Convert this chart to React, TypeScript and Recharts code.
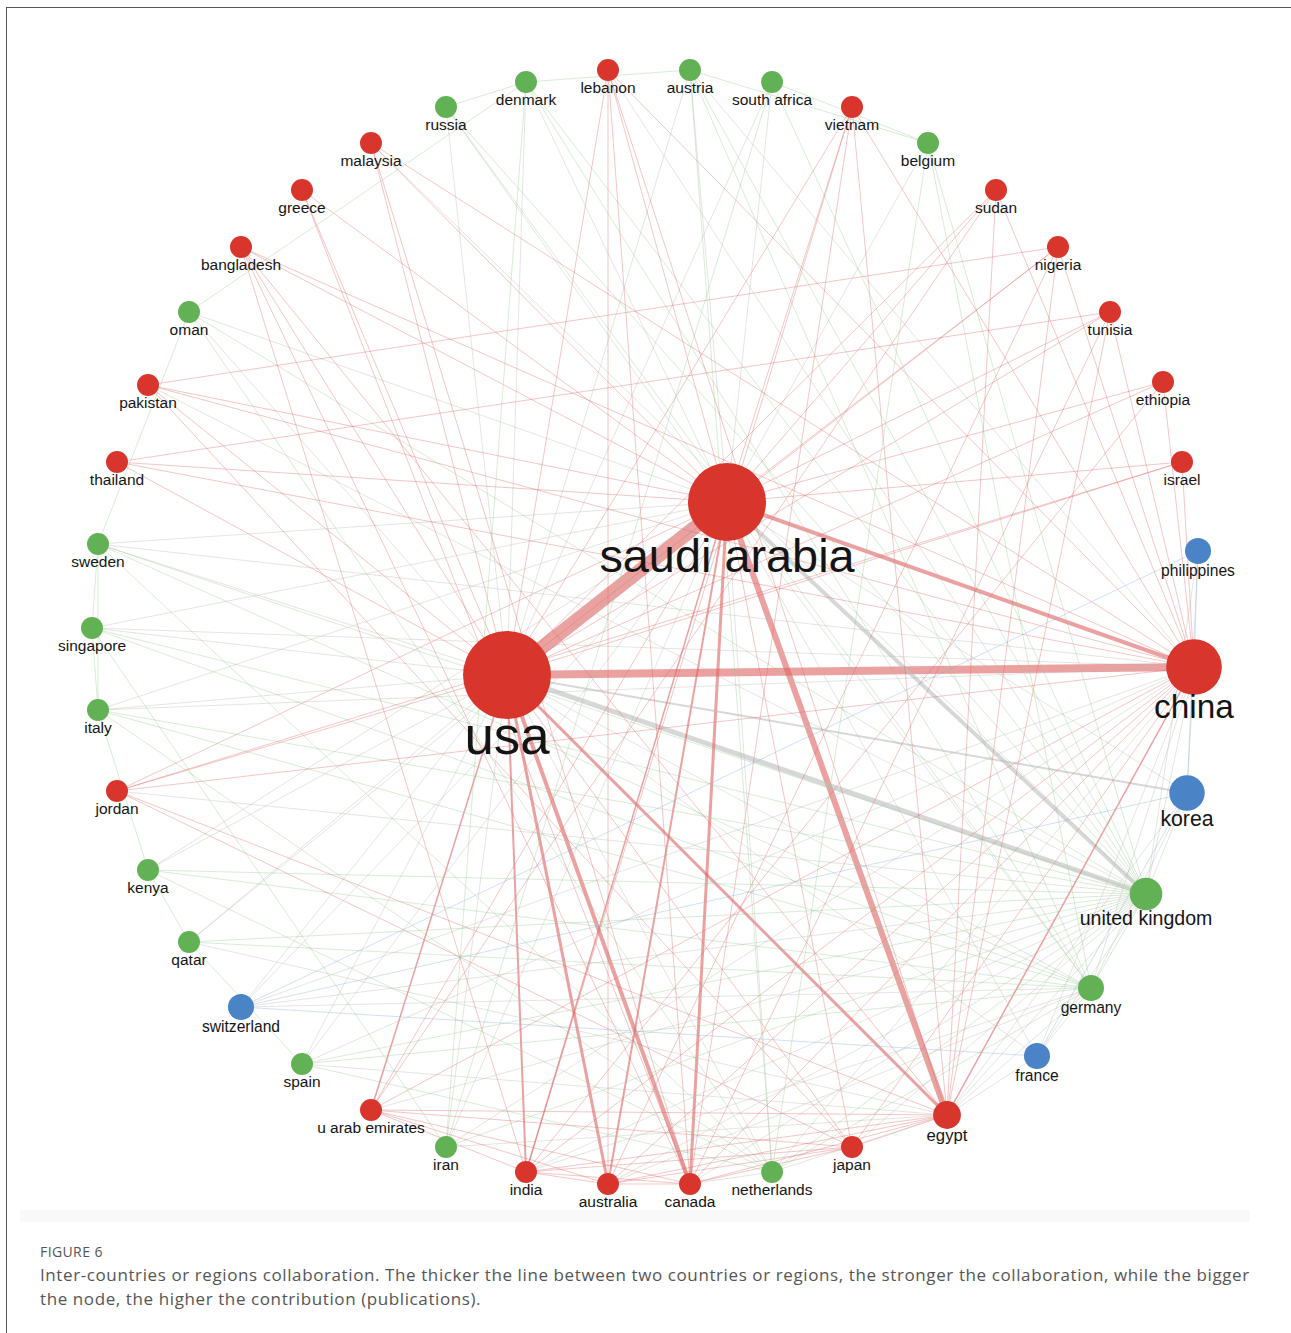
import { ScatterChart, Scatter, XAxis, YAxis, ZAxis } from "recharts";

const W = 1291;
const H = 1240;

// nodes: name, position in the layout, publications (estimated from node size), cluster
const nodeNames = [
  "usa", "saudi arabia", "china", "korea", "united kingdom", "egypt", "germany",
  "philippines", "france", "switzerland", "lebanon", "austria", "denmark", "south africa",
  "russia", "vietnam", "malaysia", "belgium", "greece", "sudan", "bangladesh", "nigeria",
  "oman", "tunisia", "pakistan", "ethiopia", "thailand", "israel", "sweden", "singapore",
  "italy", "jordan", "kenya", "qatar", "spain", "u arab emirates", "iran", "india",
  "australia", "canada", "netherlands", "japan",
];
const nodeX = [
  507, 727, 1194, 1187, 1146, 947, 1091,
  1198, 1037, 241, 608, 690, 526, 772,
  446, 852, 371, 928, 302, 996, 241, 1058,
  189, 1110, 148, 1163, 117, 1182, 98, 92,
  98, 117, 148, 189, 302, 371, 446, 526,
  608, 690, 772, 852,
];
const nodeY = [
  675, 502, 667, 793, 894, 1115, 988,
  551, 1056, 1007, 70, 70, 82, 82,
  107, 107, 143, 143, 190, 190, 247, 247,
  312, 312, 385, 382, 462, 462, 544, 628,
  710, 791, 870, 942, 1064, 1110, 1147, 1172,
  1184, 1184, 1172, 1147,
];
const nodePubs = [
  80, 63, 32, 13, 11, 8, 7,
  7, 7, 7, 5, 5, 5, 5,
  5, 5, 5, 5, 5, 5, 5, 5,
  5, 5, 5, 5, 5, 5, 5, 5,
  5, 5, 5, 5, 5, 5, 5, 5,
  5, 5, 5, 5,
];
const nodeCluster = [
  1, 1, 1, 3, 2, 1, 2,
  3, 3, 3, 1, 2, 2, 2,
  2, 1, 1, 2, 1, 1, 1, 1,
  2, 1, 1, 1, 1, 1, 2, 2,
  2, 1, 2, 2, 2, 1, 2, 1,
  1, 1, 2, 1,
];

// collaboration links: [country, country, strength]
const links: [string, string, number][] = [
  ["usa", "saudi arabia", 14],
  ["usa", "china", 8],
  ["saudi arabia", "egypt", 6],
  ["usa", "united kingdom", 5],
  ["saudi arabia", "united kingdom", 4],
  ["saudi arabia", "china", 4],
  ["usa", "canada", 4],
  ["usa", "australia", 3],
  ["usa", "egypt", 3],
  ["saudi arabia", "canada", 3],
  ["usa", "india", 2],
  ["saudi arabia", "australia", 2],
  ["usa", "korea", 2],
  ["usa", "u arab emirates", 1.5],
  ["china", "egypt", 1.5],
  ["saudi arabia", "india", 1.5],
  ["usa", "lebanon", 1], ["usa", "austria", 1], ["usa", "denmark", 1], ["usa", "russia", 1],
  ["usa", "malaysia", 1], ["usa", "greece", 1], ["usa", "bangladesh", 1], ["usa", "oman", 1],
  ["usa", "pakistan", 1], ["usa", "thailand", 1], ["usa", "sweden", 1], ["usa", "singapore", 1],
  ["usa", "italy", 1], ["usa", "jordan", 1], ["usa", "kenya", 1], ["usa", "qatar", 1],
  ["usa", "switzerland", 1], ["usa", "spain", 1], ["usa", "iran", 1], ["usa", "netherlands", 1],
  ["usa", "japan", 1], ["usa", "germany", 1], ["usa", "france", 1], ["usa", "tunisia", 1],
  ["usa", "nigeria", 1], ["usa", "sudan", 1], ["usa", "vietnam", 1], ["usa", "south africa", 1],
  ["usa", "israel", 1], ["usa", "ethiopia", 1],
  ["saudi arabia", "lebanon", 1], ["saudi arabia", "austria", 1], ["saudi arabia", "denmark", 1],
  ["saudi arabia", "russia", 1], ["saudi arabia", "malaysia", 1], ["saudi arabia", "greece", 1],
  ["saudi arabia", "bangladesh", 1], ["saudi arabia", "oman", 1], ["saudi arabia", "pakistan", 1],
  ["saudi arabia", "thailand", 1], ["saudi arabia", "sweden", 1], ["saudi arabia", "singapore", 1],
  ["saudi arabia", "italy", 1], ["saudi arabia", "jordan", 1], ["saudi arabia", "kenya", 1],
  ["saudi arabia", "qatar", 1], ["saudi arabia", "switzerland", 1], ["saudi arabia", "spain", 1],
  ["saudi arabia", "u arab emirates", 1], ["saudi arabia", "iran", 1], ["saudi arabia", "netherlands", 1],
  ["saudi arabia", "japan", 1], ["saudi arabia", "germany", 1], ["saudi arabia", "france", 1],
  ["saudi arabia", "korea", 1], ["saudi arabia", "tunisia", 1], ["saudi arabia", "nigeria", 1],
  ["saudi arabia", "sudan", 1], ["saudi arabia", "vietnam", 1], ["saudi arabia", "belgium", 1],
  ["saudi arabia", "south africa", 1], ["saudi arabia", "ethiopia", 1], ["saudi arabia", "israel", 1],
  ["china", "pakistan", 1], ["china", "thailand", 1], ["china", "bangladesh", 1], ["china", "malaysia", 1],
  ["china", "lebanon", 1], ["china", "vietnam", 1], ["china", "sudan", 1], ["china", "nigeria", 1],
  ["china", "tunisia", 1], ["china", "ethiopia", 1], ["china", "israel", 1], ["china", "philippines", 1],
  ["china", "korea", 1], ["china", "united kingdom", 1], ["china", "germany", 1], ["china", "france", 1],
  ["china", "japan", 1], ["china", "netherlands", 1], ["china", "canada", 1], ["china", "australia", 1],
  ["china", "india", 1], ["china", "u arab emirates", 1], ["china", "iran", 1], ["china", "jordan", 1],
  ["china", "italy", 1], ["china", "sweden", 1], ["china", "singapore", 1], ["china", "spain", 1],
  ["china", "switzerland", 1], ["china", "austria", 1],
  ["united kingdom", "sweden", 1], ["united kingdom", "singapore", 1], ["united kingdom", "italy", 1],
  ["united kingdom", "kenya", 1], ["united kingdom", "qatar", 1], ["united kingdom", "spain", 1],
  ["united kingdom", "switzerland", 1], ["united kingdom", "iran", 1], ["united kingdom", "netherlands", 1],
  ["united kingdom", "germany", 1], ["united kingdom", "france", 1], ["united kingdom", "korea", 1],
  ["united kingdom", "egypt", 1], ["united kingdom", "japan", 1], ["united kingdom", "india", 1],
  ["united kingdom", "australia", 1], ["united kingdom", "canada", 1], ["united kingdom", "u arab emirates", 1],
  ["united kingdom", "oman", 1], ["united kingdom", "denmark", 1], ["united kingdom", "austria", 1],
  ["united kingdom", "belgium", 1], ["united kingdom", "south africa", 1], ["united kingdom", "russia", 1],
  ["united kingdom", "jordan", 1], ["united kingdom", "pakistan", 1], ["united kingdom", "malaysia", 1],
  ["united kingdom", "lebanon", 1], ["united kingdom", "philippines", 1],
  ["egypt", "japan", 1], ["egypt", "netherlands", 1], ["egypt", "canada", 1], ["egypt", "australia", 1],
  ["egypt", "india", 1], ["egypt", "u arab emirates", 1], ["egypt", "iran", 1], ["egypt", "germany", 1],
  ["egypt", "france", 1], ["egypt", "korea", 1], ["egypt", "tunisia", 1], ["egypt", "sudan", 1],
  ["egypt", "nigeria", 1], ["egypt", "jordan", 1], ["egypt", "lebanon", 1], ["egypt", "vietnam", 1],
  ["egypt", "bangladesh", 1], ["egypt", "spain", 1], ["egypt", "qatar", 1],
  ["germany", "netherlands", 1], ["germany", "spain", 1], ["germany", "switzerland", 1],
  ["germany", "france", 1], ["germany", "korea", 1], ["germany", "italy", 1], ["germany", "sweden", 1],
  ["germany", "denmark", 1], ["germany", "austria", 1], ["germany", "belgium", 1], ["germany", "kenya", 1],
  ["germany", "qatar", 1], ["germany", "singapore", 1], ["germany", "india", 1], ["germany", "australia", 1],
  ["bangladesh", "india", 1], ["bangladesh", "canada", 1], ["malaysia", "canada", 1],
  ["greece", "canada", 1], ["lebanon", "canada", 1], ["lebanon", "australia", 1],
  ["thailand", "tunisia", 1], ["pakistan", "nigeria", 1], ["pakistan", "japan", 1],
  ["vietnam", "india", 1], ["vietnam", "canada", 1], ["sudan", "u arab emirates", 1],
  ["nigeria", "australia", 1], ["tunisia", "canada", 1], ["ethiopia", "india", 1],
  ["israel", "jordan", 1], ["jordan", "japan", 1], ["u arab emirates", "japan", 1],
  ["u arab emirates", "india", 1], ["u arab emirates", "australia", 1], ["u arab emirates", "canada", 1],
  ["india", "australia", 1], ["india", "canada", 1], ["india", "japan", 1], ["australia", "canada", 1],
  ["australia", "japan", 1], ["canada", "japan", 1], ["canada", "netherlands", 1],
  ["sweden", "singapore", 1], ["singapore", "italy", 1], ["sweden", "italy", 1], ["italy", "kenya", 1],
  ["sweden", "oman", 1], ["kenya", "qatar", 1], ["qatar", "spain", 1], ["denmark", "austria", 1],
  ["austria", "belgium", 1], ["south africa", "belgium", 1], ["russia", "denmark", 1],
  ["oman", "denmark", 1], ["sweden", "netherlands", 1], ["italy", "netherlands", 1],
  ["spain", "netherlands", 1], ["kenya", "netherlands", 1], ["singapore", "iran", 1],
  ["oman", "netherlands", 1], ["south africa", "iran", 1], ["austria", "netherlands", 1],
  ["denmark", "iran", 1], ["russia", "germany", 1], ["belgium", "netherlands", 1],
  ["switzerland", "france", 1], ["switzerland", "korea", 1], ["korea", "philippines", 1],
  ["korea", "france", 1], ["switzerland", "philippines", 1],
];

const clusterColors: Record<number, string> = { 1: "#d8362c", 2: "#62b255", 3: "#4a84c6" };
const edgeColors: Record<string, string> = {
  "1": "#e06262",
  "2": "#8fcb8a",
  "3": "#7ea9d9",
  mixed: "#b3b6ad",
};

const nodes = nodeNames.map((name, i) => ({
  name,
  x: nodeX[i],
  y: nodeY[i],
  pubs: nodePubs[i],
  cluster: nodeCluster[i],
}));
const byName: Record<string, (typeof nodes)[number]> = {};
nodes.forEach((n) => (byName[n.name] = n));

function edgeColor(a: number, b: number, w: number) {
  if (a === b) return edgeColors[String(a)];
  return w > 1 ? "#bdbdbd" : edgeColors.mixed;
}

const NodeDot = (p: any) => {
  const r = p.width / 2;
  return <circle cx={p.cx} cy={p.cy} r={r} fill={clusterColors[p.payload.cluster]} />;
};

const NodeLabel = (p: any) => {
  const r = p.width / 2;
  const fs = Math.max(15.5, r * 1.2);
  return (
    <text
      x={p.cx}
      y={p.cy + r + fs * 0.28 + 2}
      textAnchor="middle"
      dominantBaseline="central"
      fontFamily="Liberation Sans, Arial, sans-serif"
      fontSize={fs}
      fill="#141414"
    >
      {p.payload.name}
    </text>
  );
};

export default function App() {
  return (
    <div style={{ position: "absolute", left: 0, top: 0, width: 1291, height: 1333, background: "#fff" }}>
      <div
        style={{
          position: "absolute",
          left: 6,
          top: 7,
          width: 1300,
          height: 1340,
          border: "1px solid #555",
          boxSizing: "border-box",
        }}
      />
      <div style={{ position: "absolute", left: 20, top: 1210, width: 1230, height: 12, background: "#f9f9f9" }} />
      <div style={{ position: "absolute", left: 0, top: 0 }}>
        <ScatterChart width={W} height={H} margin={{ top: 0, right: 0, bottom: 0, left: 0 }}>
          <XAxis type="number" dataKey="x" domain={[0, W]} hide allowDataOverflow />
          <YAxis type="number" dataKey="y" domain={[0, H]} reversed hide allowDataOverflow />
          <ZAxis type="number" dataKey="pubs" domain={[5, 80]} range={[380, 6082]} />
          {links.map(([a, b, w], i) => {
            const na = byName[a];
            const nb = byName[b];
            return (
              <Scatter
                key={"l" + i}
                data={[na, nb]}
                shape={() => <g />}
                line={{
                  stroke: edgeColor(na.cluster, nb.cluster, w),
                  strokeWidth: w,
                  strokeOpacity: w > 1 ? 0.6 : 0.36,
                }}
                legendType="none"
                isAnimationActive={false}
              />
            );
          })}
          <Scatter data={nodes} shape={NodeDot} legendType="none" isAnimationActive={false} />
          <Scatter data={nodes} shape={NodeLabel} legendType="none" isAnimationActive={false} />
        </ScatterChart>
      </div>
      <div
        style={{
          position: "absolute",
          left: 40,
          top: 1242,
          fontFamily: "Open Sans, sans-serif",
          fontSize: 14,
          letterSpacing: 0.4,
          color: "#555",
        }}
      >
        FIGURE 6
      </div>
      <div
        style={{
          position: "absolute",
          left: 40,
          top: 1263,
          width: 1218,
          fontFamily: "Open Sans, sans-serif",
          fontSize: 17,
          letterSpacing: 0.6,
          lineHeight: "24px",
          color: "#555",
        }}
      >
        Inter-countries or regions collaboration. The thicker the line between two countries or regions, the stronger the
        collaboration, while the bigger the node, the higher the contribution (publications).
      </div>
    </div>
  );
}
